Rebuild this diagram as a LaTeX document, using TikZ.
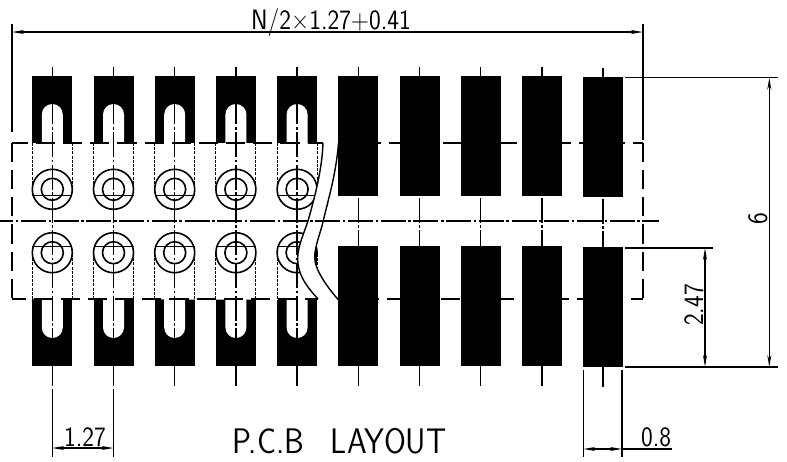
\documentclass[tikz,border=0pt]{standalone}
\usepackage{fontspec}
\usetikzlibrary{arrows.meta,calc,positioning}
\newcommand{\padw}{40pt}
\newcommand{\padh}{120pt}
\newcommand{\padg}{21.2pt}
\newcommand{\slotr}{10.5pt}
\newcommand{\dimlabel}[1]{\scalebox{0.89}[1]{#1}}
\tikzset{
    pad/.style = {
        fill=black, rectangle,
        outer sep=0,
        inner sep=0,
        minimum width={\padw},
        minimum height={\padh}
    },
    ring/.style = {
        draw, circle,
        outer sep=0,
        inner sep=0,
        line width=1.6pt
    },
    solid line/.style = {line width=1.4pt},
    box line/.style = {line width=1.4pt, dash pattern=on 19.15pt off 8pt},
    center line/.style = {line width=1.4pt, dash pattern=on 25pt off 2.6pt on 2.5pt off 2.6pt},
    body line/.style = {line width=0.9pt, dash pattern=on 3pt off 1.2pt},
    dim line/.style = {line width=1.3pt, {Stealth[length=12pt,width=4pt]}-{Stealth[length=12pt,width=4pt]}},
    dim text/.style = {
        inner sep=0, outer sep=0,
        font=\sffamily\fontsize{28}{28}\selectfont
    },
    title text/.style = {
        inner sep=0, outer sep=0,
        font=\sffamily\fontsize{35.5}{35.5}\selectfont
    }
}

\begin{document}
\begin{tikzpicture}[x=1pt,y=-1pt]

\useasboundingbox (0,0) rectangle (787,461);

\node[pad] (T1) at (52.3,136) {};
\node[pad, right=\padg of T1] (T2) {};
\node[pad, right=\padg of T2] (T3) {};
\node[pad, right=\padg of T3] (T4) {};
\node[pad, right=\padg of T4] (T5) {};
\node[pad, right=\padg of T5] (T6) {};
\node[pad, right=\padg of T6] (T7) {};
\node[pad, right=\padg of T7] (T8) {};
\node[pad, right=\padg of T8] (T9) {};
\node[pad, right=\padg of T9, yshift=-1pt] (T10) {};

\node[pad] (B1) at (52.3,306) {};
\node[pad, right=\padg of B1] (B2) {};
\node[pad, right=\padg of B2] (B3) {};
\node[pad, right=\padg of B3] (B4) {};
\node[pad, right=\padg of B4] (B5) {};
\node[pad, right=\padg of B5] (B6) {};
\node[pad, right=\padg of B6] (B7) {};
\node[pad, right=\padg of B7] (B8) {};
\node[pad, right=\padg of B8] (B9) {};
\node[pad, right=\padg of B9, yshift=-1pt] (B10) {};

\coordinate (BoxNW) at (12,143);
\coordinate (BoxNE) at (643,143);
\coordinate (BoxSW) at (12,299);
\coordinate (BoxSE) at (643,299);

\foreach \i in {1,...,5} {
    \fill[white] ($(T\i.north)+(-\slotr,67)$) -- ($(T\i.north)+(-\slotr,38.5)$)
        arc[start angle=180,end angle=0,radius=\slotr] -- ($(T\i.north)+(\slotr,67)$) -- cycle;
    \fill[white] ($(B\i.south)+(-\slotr,-67)$) -- ($(B\i.south)+(-\slotr,-38.5)$)
        arc[start angle=180,end angle=360,radius=\slotr] -- ($(B\i.south)+(\slotr,-67)$) -- cycle;
}

\fill[white] (BoxNW) -- (338.5,143) .. controls (336,175) and (328,200) .. (322,226)
    .. controls (316,246) and (312,256) .. (317,268)
    .. controls (322,280) and (330,290) .. (338.5,300) -- (BoxSW) -- cycle;

\foreach \i in {1,...,5} {
    \node[ring, minimum size=40pt] (RU\i) at ($(T\i.north)+(0,113.3)$) {};
    \node[ring, minimum size=22pt] (IU\i) at (RU\i) {};
    \node[ring, minimum size=40pt] (RL\i) at ($(B\i.south)+(0,-113.3)$) {};
    \node[ring, minimum size=22pt] (IL\i) at (RL\i) {};
    \draw[solid line] ($(RU\i.west)+(0,6)$) -- ($(RU\i.east)+(0,6)$);
    \draw[solid line] ($(RL\i.west)+(0,-6)$) -- ($(RL\i.east)+(0,-6)$);
    \draw[body line] (T\i.west |- BoxNW) -- (RU\i.west);
    \draw[body line] (T\i.east |- BoxNW) -- (RU\i.east);
    \draw[body line] (B\i.west |- BoxSW) -- (RL\i.west);
    \draw[body line] (B\i.east |- BoxSW) -- (RL\i.east);
}

\fill[white] (323,143) -- (338.5,143) .. controls (336,175) and (328,200) .. (322,226)
    .. controls (316,246) and (312,256) .. (317,268)
    .. controls (322,280) and (330,290) .. (338.5,300) -- (318,299)
    .. controls (308,288) and (300,278) .. (298,264)
    .. controls (296,250) and (303,236) .. (308,221)
    .. controls (315,196) and (322,170) .. (323,143) -- cycle;

\foreach \i in {1,...,10} {
    \draw[center line] ($(T\i.north)+(0,-9.3)$) -- ($(B\i.south)+(0,21)$);
}

\draw[center line, dash phase=11.7pt] (0,221) -- (659,221);

\draw[box line, dash phase=3.15pt] (BoxNW) -- (323,143);
\draw[box line, dash phase=3.85pt] (338.5,143) -- (BoxNE);
\draw[box line, dash phase=5.45pt] (BoxSW) -- (318,299);
\draw[box line, dash phase=6.15pt] (338.5,299) -- (BoxSE);
\draw[box line] (BoxNW) -- (BoxSW);
\draw[box line] (BoxNE) -- (BoxSE);

\draw[solid line] (323,143) .. controls (322,170) and (315,196) .. (308,221)
    .. controls (303,236) and (296,250) .. (298,264)
    .. controls (300,278) and (308,288) .. (318,299);
\draw[solid line] (338.5,143) .. controls (336,175) and (328,200) .. (322,226)
    .. controls (316,246) and (312,256) .. (317,268)
    .. controls (322,280) and (330,290) .. (338.5,300);

\coordinate (TopL) at (12,24);
\coordinate (TopR) at (643,24);
\draw[solid line] (TopL) -- (12,132);
\draw[solid line] (TopR) -- (643,140);
\draw[dim line] (12,32) -- (643,32);
\node[dim text, anchor=base] (TotalLabel) at (331,29.3) {\dimlabel{N/2×1.27+0.41}};

\draw[solid line] ($(T10.north east)+(2,0.7)$) -- ++(152.5,0) coordinate (TopExt);
\draw[solid line] ($(B10.south east)+(2,0)$) -- ++(152.5,0) coordinate (BotExt);
\draw[solid line] ($(B10.north east)+(2,1)$) -- ++(88,0) coordinate (MidExt);
\draw[dim line] (769.3,77.7) -- (769.3,367);
\draw[dim line] (705,248) -- (705,367);
\node[dim text, rotate=90, anchor=base] (HeightLabel) at (767,219) {\dimlabel{6}};
\node[dim text, rotate=90, anchor=base] (GapLabel) at (703,305) {\dimlabel{2.47}};

\draw[solid line] (B1.south |- 0,389) -- (52.3,457);
\draw[solid line] (B2.south |- 0,389) -- (113.5,457);
\draw[dim line] (52.3,448) -- (113.5,448);
\node[dim text, anchor=base] (PitchLabel) at (85,446.7) {\dimlabel{1.27}};

\draw[solid line] (583.3,370) -- (583.3,457);
\draw[solid line] (622,370) -- (622,457);
\draw[dim line] (583.3,449) -- (622,449);
\draw[solid line] (622,449) -- (672,449);
\node[dim text, anchor=base] (WidthLabel) at (656,446) {\dimlabel{0.8}};

\node[title text, anchor=base] (TitleLabel) at (339.5,453) {\dimlabel{P.C.B\hspace{30pt}LAYOUT}};

\end{tikzpicture}
\end{document}
